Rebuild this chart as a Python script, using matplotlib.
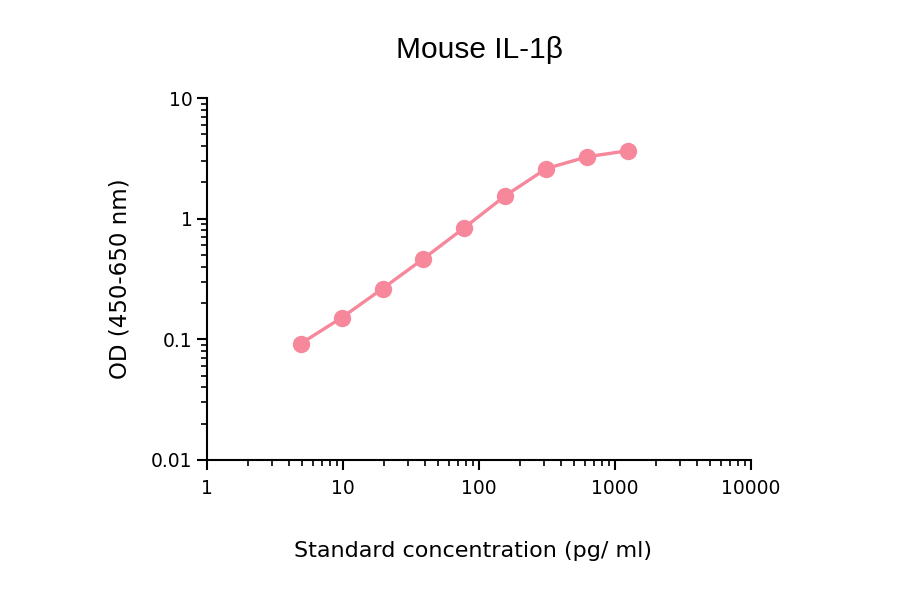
import matplotlib
matplotlib.use("Agg")
import matplotlib.pyplot as plt
from matplotlib.ticker import LogLocator, FixedLocator, FixedFormatter, NullFormatter

# standard curve values
conc = [4.88, 9.77, 19.53, 39.06, 78.13, 156.25, 312.5, 625, 1250]
od = [0.092, 0.151, 0.263, 0.466, 0.842, 1.55, 2.6, 3.26, 3.66]

x_ticks = [1, 10, 100, 1000, 10000]
x_labels = ["1", "10", "100", "1000", "10000"]
y_ticks = [0.01, 0.1, 1, 10]
y_labels = ["0.01", "0.1", "1", "10"]

COLOR = '#F7879A'

fig = plt.figure(figsize=(9, 5.94), dpi=100)
ax = fig.add_axes([0.23, 0.2256, 0.6044, 0.6094])

ax.plot(conc, od, color=COLOR, linewidth=2.4, marker='o', markersize=12.5,
        markeredgewidth=0, clip_on=False)

ax.set_xscale('log')
ax.set_yscale('log')
ax.set_xlim(1, 10000)
ax.set_ylim(0.01, 10)

ax.xaxis.set_major_locator(FixedLocator(x_ticks))
ax.xaxis.set_major_formatter(FixedFormatter(x_labels))
ax.xaxis.set_minor_locator(LogLocator(base=10, subs=range(2, 10), numticks=20))
ax.xaxis.set_minor_formatter(NullFormatter())
ax.yaxis.set_major_locator(FixedLocator(y_ticks))
ax.yaxis.set_major_formatter(FixedFormatter(y_labels))
ax.yaxis.set_minor_locator(LogLocator(base=10, subs=range(2, 10), numticks=20))
ax.yaxis.set_minor_formatter(NullFormatter())

ax.spines['top'].set_visible(False)
ax.spines['right'].set_visible(False)
ax.spines['left'].set_linewidth(1.5)
ax.spines['bottom'].set_linewidth(1.5)
ax.tick_params(which='major', length=7, width=1.5, labelsize=13.5, direction='out')
ax.tick_params(which='minor', length=4, width=1.2, direction='out')
ax.tick_params(axis='x', pad=7)

ax.set_title('Mouse IL-1β', fontsize=21.5, family='Liberation Sans', pad=29)
ax.set_xlabel('Standard concentration (pg/ ml)', fontsize=16, labelpad=31)
ax.xaxis.label.set_x(0.489)
ax.set_ylabel('OD (450-650 nm)', fontsize=16.5, labelpad=14)

plt.savefig('out.png', dpi=100, facecolor='white')
